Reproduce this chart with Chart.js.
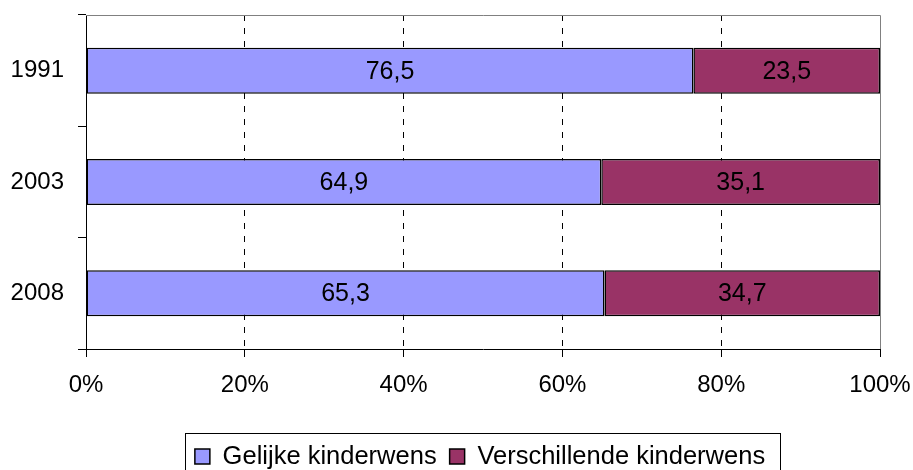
<!DOCTYPE html>
<html>
<head>
<meta charset="utf-8">
<script src="https://cdn.jsdelivr.net/npm/chart.js@4/dist/chart.umd.min.js"></script>
<style>
    html, body { margin: 0; padding: 0; background: #fff; }
    #wrap { width: 913px; height: 470px; }
</style>
</head>
<body>
<div id="wrap"><canvas id="kinderwensChart"></canvas></div>
<script>
const years = ['1991', '2003', '2008'];
const gelijk = [76.5, 64.9, 65.3];
const verschillend = [23.5, 35.1, 34.7];
const seriesNames = ['Gelijke kinderwens', 'Verschillende kinderwens'];
const xTicks = [0, 20, 40, 60, 80, 100];

const family = '"Liberation Sans", Arial, sans-serif';
Chart.defaults.font = { family: family, size: 24 };
Chart.defaults.color = '#000';

// value labels in the middle of each segment
const valueLabels = {
    id: 'valueLabels',
    afterDatasetsDraw: chart => {
        const ctx = chart.ctx;
        ctx.save();
        ctx.font = '25px ' + family;
        ctx.fillStyle = '#000';
        ctx.textAlign = 'center';
        ctx.textBaseline = 'middle';
        chart.data.datasets.forEach((ds, i) => {
            chart.getDatasetMeta(i).data.forEach((bar, j) => {
                const txt = String(ds.data[j]).replace('.', ',');
                ctx.fillText(txt, (bar.x + bar.base) / 2, bar.y + 1);
            });
        });
        ctx.restore();
    }
};

// grey frame top/right, legend moved under the plot and boxed
const frame = {
    id: 'frame',
    afterLayout: chart => {
        chart.legend.left += 40;
        chart.legend.right += 40;
    },
    beforeDatasetsDraw: chart => {
        const a = chart.chartArea;
        const ctx = chart.ctx;
        ctx.save();
        ctx.strokeStyle = '#808080';
        ctx.lineWidth = 1;
        ctx.beginPath();
        ctx.moveTo(a.left, Math.round(a.top) + 0.5);
        ctx.lineTo(Math.round(a.right) + 0.5, Math.round(a.top) + 0.5);
        ctx.lineTo(Math.round(a.right) + 0.5, a.bottom);
        ctx.stroke();
        ctx.restore();
    },
    afterDraw: chart => {
        const lg = chart.legend;
        const boxes = lg.legendHitBoxes;
        if (!boxes || !boxes.length) return;
        const last = boxes[boxes.length - 1];
        const ctx = chart.ctx;
        ctx.save();
        ctx.strokeStyle = '#000';
        ctx.lineWidth = 1;
        ctx.strokeRect(Math.round(boxes[0].left - 10) + 0.5, Math.round(lg.top + 2) + 0.5,
            Math.round(last.left + last.width - boxes[0].left + 25), 60);
        ctx.restore();
    }
};

const dataKinderwens = {
    labels: years,
    datasets: [{
        label: seriesNames[0],
        data: gelijk,
        backgroundColor: '#9999ff',
        borderColor: '#000',
        borderWidth: 1.5,
        borderSkipped: false,
        categoryPercentage: 1,
        barPercentage: 0.413
    }, {
        label: seriesNames[1],
        data: verschillend,
        backgroundColor: '#993366',
        borderColor: '#000',
        borderWidth: 1.5,
        borderSkipped: false,
        categoryPercentage: 1,
        barPercentage: 0.413
    }]
};

const configKinderwens = {
    type: 'bar',
    data: dataKinderwens,
    plugins: [valueLabels, frame],
    options: {
        indexAxis: 'y',
        responsive: true,
        maintainAspectRatio: false,
        animation: false,
        layout: { padding: { left: 0, right: 33, top: 15, bottom: -9.25 } },
        scales: {
            x: {
                stacked: true,
                min: 0,
                max: 100,
                afterBuildTicks: scale => { scale.ticks = xTicks.map(v => ({ value: v })); },
                afterFit: scale => {
                    scale.height = 81.75;
                    scale.paddingLeft = 0;
                    scale.paddingRight = 0;
                },
                ticks: { padding: 14, callback: v => v + '%', maxRotation: 0 },
                grid: {
                    color: c => (c.tick && (c.tick.value === 0 || c.tick.value === 100)) ? 'rgba(0,0,0,0)' : '#000',
                    tickColor: '#000',
                    tickBorderDash: [],
                    tickLength: 8,
                    lineWidth: 1
                },
                border: { color: '#000', width: 1, dash: [6, 7] }
            },
            y: {
                stacked: true,
                afterFit: scale => {
                    scale.width = 86;
                    scale.paddingTop = 0;
                    scale.paddingBottom = 0;
                },
                ticks: { padding: 14 },
                grid: {
                    offset: true,
                    drawOnChartArea: false,
                    color: '#000',
                    tickLength: 8
                },
                border: { color: '#000', width: 1 }
            }
        },
        plugins: {
            legend: {
                position: 'bottom',
                labels: {
                    boxWidth: 15,
                    boxHeight: 15,
                    padding: 13,
                    color: '#000',
                    font: { family: family, size: 25.5 }
                }
            },
            tooltip: { enabled: false }
        }
    }
};

new Chart(
    document.getElementById('kinderwensChart'),
    configKinderwens
);
</script>
</body>
</html>
